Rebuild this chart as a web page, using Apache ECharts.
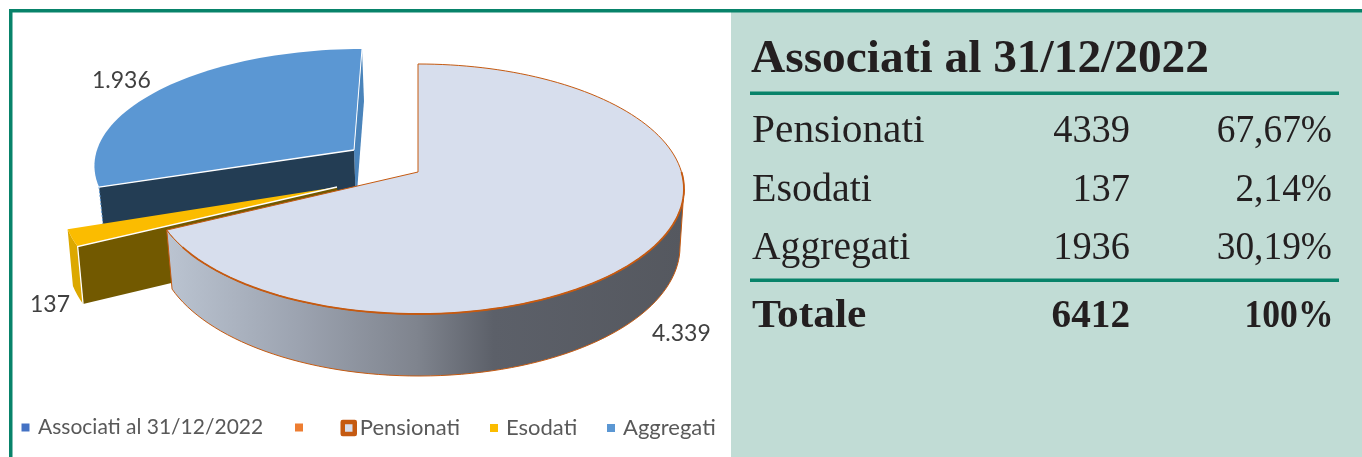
<!DOCTYPE html>
<html><head><meta charset="utf-8">
<style>html,body{margin:0;padding:0;background:#fff}#c{width:1362px;height:457px}</style>
<script src="https://cdn.jsdelivr.net/npm/echarts@6/dist/echarts.min.js"></script>
</head><body><div id="c"></div>
<script>
// ---- data ----
const sliceNames = ['Pensionati', 'Esodati', 'Aggregati'];
const sliceValues = [4339, 137, 1936];
const dataLabels = ['4.339', '137', '1.936'];
const legendNames = ['Associati al 31/12/2022', ' ', 'Pensionati', 'Esodati', 'Aggregati'];
const tableTitle = 'Associati al 31/12/2022';
const tableRows = ['Pensionati', 'Esodati', 'Aggregati'];
const tableCounts = ['4339', '137', '1936'];
const tablePercents = ['67,67%', '2,14%', '30,19%'];
const tableTotal = ['Totale', '6412', '100%'];

// ---- layout / style ----
const GREEN = '#08836a', PANEL = '#c1dcd5', EDGE = '#c55a11';
const TEXTC = '#231f20', LABELC = '#404040', LEGC = '#595959';
const SERIF = '"Liberation Serif", serif', SANS = 'Lato, sans-serif';
const geom = [
  {top:{x:418,y:172,a:122.7,b:263.5,p:.136,s:0}, bot:{x:418.8,y:229,a:127,b:258.8,p:.136,s:0}, labelAt:[652,334]},
  {top:{x:337,y:187,a:126,b:272,p:.136,s:0}, bot:{x:344,y:242,a:131,b:273.7,p:.136,s:0}, labelAt:[30,305]},
  {top:{x:354,y:150,a:111.7,b:257,p:.106,s:8.85}, bot:{x:356,y:205,a:115,b:253,p:.106,s:8.85}, labelAt:[92,81]}
];
const total = sliceValues.reduce((s, v) => s + v, 0);
const rad = d => d * Math.PI / 180;
const startDeg = i => sliceValues.slice(0, i).reduce((s, v) => s + v, 0) / total * 360;
const endDeg = i => startDeg(i) + sliceValues[i] / total * 360;
function pt(m, deg) {
  const c = Math.cos(rad(deg)), sn = Math.sin(rad(deg)), w = 1 + m.p * c;
  return [m.x + (m.b * sn + m.s * c) / w, m.y - m.a * c / w];
}
function arc(m, from, to) {
  const n = Math.max(2, Math.ceil(Math.abs(to - from) / 2)), out = [];
  for (let k = 0; k <= n; k++) out.push(pt(m, from + (to - from) * k / n));
  return out;
}
const poly = (points, style) => ({type:'polygon', shape:{points}, style});
const line = (points, stroke, lineWidth, extra) => ({type:'polyline', shape:{points}, style:Object.assign({fill:null, stroke, lineWidth}, extra || {})});
const wallGrad = {type:'linear', x:170, y:0, x2:684, y2:0, global:true, colorStops:[
  {offset:0, color:'#bac3d0'}, {offset:.25, color:'#9ca3b0'}, {offset:.48, color:'#7f848e'},
  {offset:.63, color:'#5c6069'}, {offset:1, color:'#55585f'}]};

function label(i) {
  return {type:'text', style:{text:dataLabels[i], x:geom[i].labelAt[0], y:geom[i].labelAt[1], fill:LABELC, font:'23px ' + SANS, align:'left', verticalAlign:'middle'}};
}
const painters = {
  Pensionati(i) {
    const g = geom[i], a0 = startDeg(i), a1 = endDeg(i);
    const wallTop = arc(g.top, 98, a1), wallBot = arc(g.bot, 98, a1).reverse();
    const topFace = [[g.top.x, g.top.y]].concat(arc(g.top, a0, a1));
    return [
      poly(wallTop.concat(wallBot), {fill:wallGrad, stroke:EDGE, lineWidth:1}),
      poly(topFace, {fill:'#d7deed', stroke:EDGE, lineWidth:1}),
      line(arc(g.top, 90, a1 - 8), EDGE, 1.8),
      label(i)
    ];
  },
  Esodati(i) {
    const g = geom[i], a0 = startDeg(i), a1 = endDeg(i);
    const P = [g.top.x, g.top.y], Pb = [g.bot.x, g.bot.y];
    return [
      poly(arc(g.top, a0, a1).concat(arc(g.bot, a1, a0)), {fill:'#dca800'}),
      poly([P, pt(g.top, a0), pt(g.bot, a0), Pb], {fill:'#725900'}),
      poly([P].concat(arc(g.top, a0, a1)), {fill:'#fbbc00'}),
      line([P, pt(g.top, a0), pt(g.bot, a0)], '#ffffff', 1.3),
      label(i)
    ];
  },
  Aggregati(i) {
    const g = geom[i], a0 = startDeg(i), a1 = endDeg(i);
    const P = [g.top.x, g.top.y], Pb = [g.bot.x, g.bot.y];
    return [
      poly([P, pt(g.top, a1), pt(g.bot, a1), Pb], {fill:'#4a84bb'}),
      poly([P, pt(g.top, a0), pt(g.bot, a0), Pb], {fill:'#233d54'}),
      line([pt(g.top, a0), pt(g.bot, a0)], '#5b97d3', 1, {lineDash:[2, 2]}),
      poly([P].concat(arc(g.top, a0, a1)), {fill:'#5b97d3'}),
      line([pt(g.top, a0), P], '#ffffff', 1.3),
      line([P, pt(g.top, a1)], '#ffffff', 1),
      label(i)
    ];
  }
};
const series = sliceNames.map((name, i) => ({
  type:'custom', name, coordinateSystem:'none', z:10 + (sliceNames.length - i),
  data:[sliceValues[i]], silent:true, animation:false, clip:false,
  renderItem:() => ({type:'group', children:painters[name](i)})
}));
[['Associati al 31/12/2022', '#4472c4'], [' ', '#ed7d31']].forEach(([name, color]) => series.push({
  type:'custom', name, coordinateSystem:'none', data:[], itemStyle:{color}, renderItem:() => null
}));

const legendStyle = [
  {left:16.5, color:'#4472c4', w:8, pad:3.5, size:21},
  {left:290, color:'#ed7d31', w:8, pad:0, size:21},
  {left:335.5, color:'#d7deed', w:12, pad:0, size:22, border:EDGE},
  {left:485, color:'#fbbc00', w:8, pad:3, size:22},
  {left:602, color:'#5b97d3', w:8, pad:3, size:22}
];
const legends = legendNames.map((name, i) => {
  const s = legendStyle[i];
  return {
    left:s.left, top:412, selectedMode:false, icon:'rect', itemWidth:s.w, itemHeight:s.w,
    textStyle:{color:LEGC, fontFamily:SANS, fontSize:s.size, padding:[0,0,0,s.pad]},
    data:[{name, icon:'rect', itemStyle:{color:s.color, borderColor:s.border || s.color, borderWidth:s.border ? 4.5 : 0, borderJoin:'round'}}]
  };
});

const txt = (text, x, y, size, bold, align, scaleX) => ({type:'text', z:5, x, y, scaleX:scaleX || 1, silent:true, style:{text, x:0, y:0, fill:TEXTC, font:(bold ? 'bold ' : '') + size + 'px ' + SERIF, align:align || 'left', verticalAlign:'middle'}});
const rect = (x, y, width, height, fill, z) => ({type:'rect', z:z || 1, silent:true, shape:{x, y, width, height}, style:{fill}});
const rowY = [131, 190, 248];
const rowScale = [1.035, 1.0, .99];
const graphicEls = [
  rect(731, 12, 631, 445, PANEL),
  rect(9, 9, 1353, 3.5, GREEN, 2),
  rect(9, 9, 3.5, 448, GREEN, 2),
  rect(750, 91.5, 589, 3.5, GREEN, 2),
  rect(750, 278.5, 589, 3.5, GREEN, 2),
  txt(tableTitle, 751, 60, 46, true, 'left', 1.03)
];
tableRows.forEach((r, i) => {
  graphicEls.push(txt(r, 752, rowY[i], 40, false, 'left', rowScale[i]));
  graphicEls.push(txt(tableCounts[i], 1130, rowY[i], 40, false, 'right', .96));
  graphicEls.push(txt(tablePercents[i], 1332, rowY[i], 40, false, 'right', .935));
});
graphicEls.push(txt(tableTotal[0], 752, 317, 40, true, 'left', 1.086));
graphicEls.push(txt(tableTotal[1], 1130, 317, 40, true, 'right', .98));
graphicEls.push(txt(tableTotal[2], 1333.5, 317, 40, true, 'right', .89));

const chart = echarts.init(document.getElementById('c'), null, {renderer:'canvas', width:1362, height:457});
chart.setOption({animation:false, backgroundColor:'#ffffff', legend:legends, graphic:{elements:graphicEls}, series});
</script></body></html>
